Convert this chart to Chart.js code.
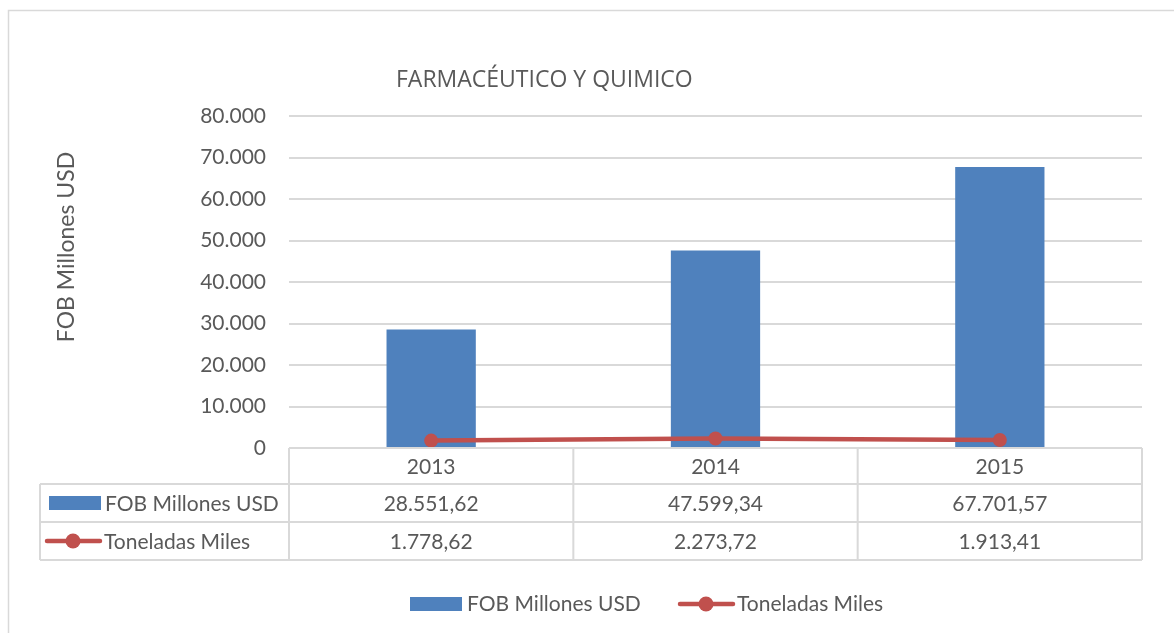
<!DOCTYPE html>
<html>
<head>
<meta charset="utf-8">
<title>Farmacéutico y Químico</title>
<script src="https://cdn.jsdelivr.net/npm/chart.js@4.4.1/dist/chart.umd.min.js"></script>
<style>
  html, body { margin: 0; padding: 0; background: #fff; }
  #wrap { width: 1174px; height: 633px; position: relative; }
</style>
</head>
<body>
<div id="wrap"><canvas id="grafico" width="1174" height="633"></canvas></div>
<script>
// datos del gráfico
const anios = ["2013", "2014", "2015"];
const fobMillones = [28551.62, 47599.34, 67701.57];
const toneladasMiles = [1778.62, 2273.72, 1913.41];
const etiquetasSerie = ["FOB Millones USD", "Toneladas Miles"];
const tituloGrafico = "FARMACÉUTICO Y QUIMICO";
const tituloEjeY = "FOB Millones USD";

const azul = "#4F81BD";
const rojo = "#C0504D";
const gris = "#595959";
const linea = "#D9D9D9";
const fuente = "Lato, 'Open Sans', sans-serif";

// 28551.62 -> "28.551,62"
function formatoES(v, dec) {
    const partes = v.toFixed(dec).split(".");
    const entero = partes[0].replace(/\B(?=(\d{3})+(?!\d))/g, ".");
    return dec > 0 ? entero + "," + partes[1] : entero;
}

function simboloBarra(ctx, x, y) {
    ctx.fillStyle = azul;
    ctx.fillRect(x, y - 7, 52, 14);
}

function simboloLinea(ctx, x, y) {
    ctx.strokeStyle = rojo;
    ctx.lineWidth = 4.5;
    ctx.lineCap = "round";
    ctx.beginPath();
    ctx.moveTo(x + 2, y);
    ctx.lineTo(x + 55, y);
    ctx.stroke();
    ctx.fillStyle = rojo;
    ctx.beginPath();
    ctx.arc(x + 28, y, 7.5, 0, Math.PI * 2);
    ctx.fill();
}

// tabla de datos, títulos y leyenda al estilo Excel
const tablaDatos = {
    id: "tablaDatos",
    afterDraw(chart) {
        const ctx = chart.ctx;
        const xs = chart.scales.x;
        const area = chart.chartArea;
        const ancho = (area.right - area.left) / anios.length;
        const filas = [area.bottom, area.bottom + 36, area.bottom + 74, area.bottom + 112];
        const izq = 40;

        ctx.save();
        // marco exterior
        ctx.strokeStyle = linea;
        ctx.lineWidth = 1.5;
        ctx.beginPath();
        ctx.moveTo(8.5, 640);
        ctx.lineTo(8.5, 10.5);
        ctx.lineTo(1174, 10.5);
        ctx.stroke();

        // rejilla de la tabla
        ctx.lineWidth = 2;
        ctx.beginPath();
        ctx.moveTo(area.left, filas[0]);
        ctx.lineTo(area.right, filas[0]);
        for (let r = 1; r < filas.length; r++) {
            ctx.moveTo(izq, filas[r]);
            ctx.lineTo(area.right, filas[r]);
        }
        ctx.moveTo(izq, filas[1]);
        ctx.lineTo(izq, filas[3]);
        for (let i = 0; i <= anios.length; i++) {
            const x = area.left + i * ancho;
            ctx.moveTo(x, filas[0]);
            ctx.lineTo(x, filas[3]);
        }
        ctx.stroke();

        ctx.fillStyle = gris;
        ctx.font = "21px " + fuente;
        ctx.textBaseline = "middle";
        ctx.textAlign = "center";
        anios.forEach((a, i) => {
            const cx = xs.getPixelForValue(i);
            ctx.fillText(a, cx, (filas[0] + filas[1]) / 2 + 1);
            ctx.fillText(formatoES(fobMillones[i], 2), cx, (filas[1] + filas[2]) / 2 + 1);
            ctx.fillText(formatoES(toneladasMiles[i], 2), cx, (filas[2] + filas[3]) / 2 + 1);
        });

        // claves de la tabla
        const y1 = (filas[1] + filas[2]) / 2;
        const y2 = (filas[2] + filas[3]) / 2;
        simboloBarra(ctx, 49, y1);
        simboloLinea(ctx, 45, y2);
        ctx.fillStyle = gris;
        ctx.textAlign = "left";
        ctx.fillText(etiquetasSerie[0], 105, y1 + 1);
        ctx.fillText(etiquetasSerie[1], 104, y2 + 1);

        // leyenda inferior
        simboloBarra(ctx, 410, 604);
        ctx.fillStyle = gris;
        ctx.fillText(etiquetasSerie[0], 467, 604);
        simboloLinea(ctx, 678, 604);
        ctx.fillStyle = gris;
        ctx.fillText(etiquetasSerie[1], 737, 604);

        // título
        ctx.font = "23px 'Open Sans', sans-serif";
        ctx.textAlign = "left";
        ctx.fillText(tituloGrafico, 396, 80);

        // título eje Y
        ctx.font = "23px " + fuente;
        ctx.translate(67, 247);
        ctx.rotate(-Math.PI / 2);
        ctx.textAlign = "center";
        ctx.fillText(tituloEjeY, 0, 0);
        ctx.restore();
    }
};

new Chart(document.getElementById("grafico"), {
    data: {
        labels: anios,
        datasets: [
            {
                type: "line",
                label: etiquetasSerie[1],
                data: toneladasMiles,
                borderColor: rojo,
                backgroundColor: rojo,
                borderWidth: 4.5,
                pointRadius: 7,
                pointBackgroundColor: rojo,
                pointBorderWidth: 0,
                order: 0
            },
            {
                type: "bar",
                label: etiquetasSerie[0],
                data: fobMillones,
                backgroundColor: azul,
                borderWidth: 0,
                barPercentage: 0.314,
                categoryPercentage: 1,
                order: 1
            }
        ]
    },
    options: {
        responsive: false,
        animation: false,
        layout: { padding: { left: 0, top: 116, right: 32, bottom: 185 } },
        plugins: {
            legend: { display: false },
            title: { display: false },
            tooltip: { enabled: false }
        },
        scales: {
            x: { display: false },
            y: {
                min: 0,
                max: 80000,
                afterFit(scale) { scale.width = 289; },
                border: { display: false },
                grid: { color: linea, lineWidth: 2, drawTicks: false },
                ticks: {
                    stepSize: 10000,
                    padding: 23,
                    color: gris,
                    font: { family: fuente, size: 21 },
                    callback: v => formatoES(v, 0)
                }
            }
        }
    },
    plugins: [tablaDatos]
});
</script>
</body>
</html>
